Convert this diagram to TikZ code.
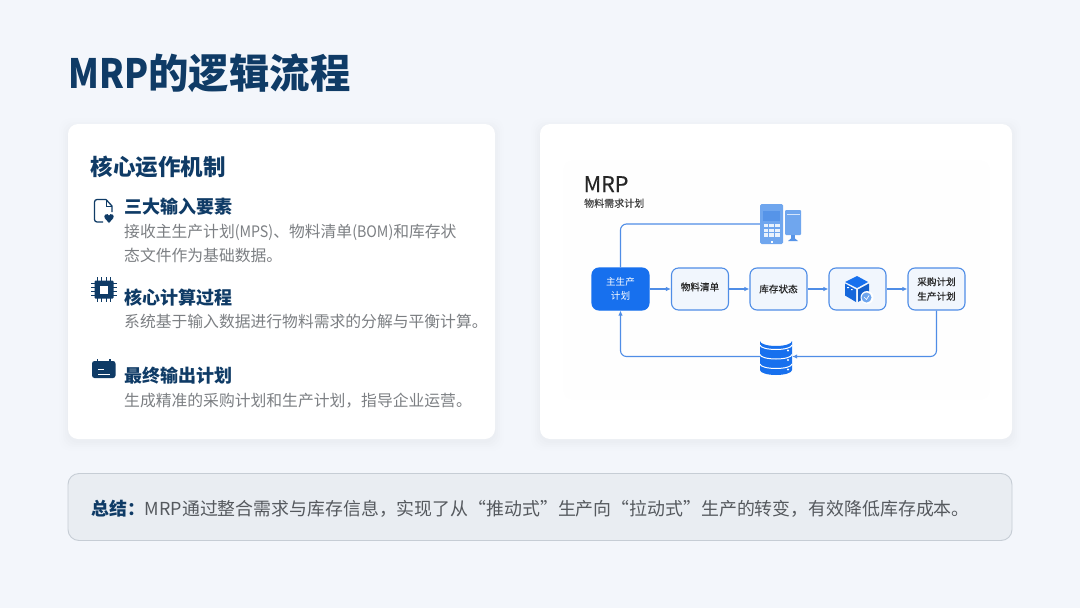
\documentclass[tikz,border=0pt]{standalone}
\usepackage{fontspec}
\usepackage{graphicx}
\setmainfont{Noto Sans CJK SC}
\newfontfamily\medfont[FakeBold=0.25]{Noto Sans CJK SC}
\usetikzlibrary{arrows.meta,calc}
\definecolor{bgc}{HTML}{F3F6FB}
\definecolor{navy}{HTML}{0F3B66}
\definecolor{graytx}{HTML}{7C7F83}
\definecolor{sumtx}{HTML}{55595E}
\definecolor{sumbg}{HTML}{E9EDF2}
\definecolor{sumln}{HTML}{C6CDD5}
\definecolor{flow}{HTML}{4F8DE6}
\definecolor{blue1}{HTML}{1770EE}
\definecolor{boxbg}{HTML}{F1F6FD}
\definecolor{lightb}{HTML}{6FA6EE}
\definecolor{midb}{HTML}{4C8CE6}
\newcommand{\lat}[2][0.9]{\scalebox{#1}[1]{#2}}
\tikzset{
  x=1pt,y=-1pt,
  txt/.style={inner sep=0pt,anchor=base west},
  cardbox/.style={fill=white,rounded corners=10pt,draw=none},
  fbox/.style={draw=flow,line width=1.1pt,fill=boxbg,rounded corners=7pt,minimum width=57pt,minimum height=42pt,inner sep=0pt,align=center,text=black!85,font=\fontsize{9.6}{14.5}\medfont},
  mainbox/.style={fbox,fill=blue1,draw=blue1,text=white,font=\fontsize{9.6}{14.5}\selectfont},
  conn/.style={draw=flow,line width=1.1pt,rounded corners=6pt},
  tip/.style={-{Latex[length=5pt,width=4.5pt]}},
  anchorbox/.style={inner sep=0pt,draw=none,fill=none},
  h1/.style={txt,text=navy,font=\fontsize{22.5}{26}\bfseries},
  h2/.style={txt,text=navy,font=\fontsize{18}{22}\bfseries},
  body/.style={txt,text=graytx,align=left,font=\fontsize{15.8}{24}\selectfont},
}
\newcommand{\softshadow}[4]{%
  \foreach \s/\o in {9/0.004,7/0.005,5/0.006,3/0.007,1/0.008}
    \fill[black,opacity=\o,rounded corners=11pt] (#1-\s,#2-\s+3) rectangle (#3+\s,#4+\s+3);}
\begin{document}
\begin{tikzpicture}
\useasboundingbox (0,0) rectangle (1080,608);
\fill[bgc] (0,0) rectangle (1080,608);
\softshadow{68}{124}{495}{439}
\softshadow{540}{124}{1012}{439}
\fill[cardbox] (68,124) rectangle (495,439);
\fill[cardbox] (540,124) rectangle (1012,439);
\fill[blue1,opacity=0.005,rounded corners=10pt] (563,160) rectangle (990,400);
\draw[sumln,fill=sumbg,line width=0.9pt,rounded corners=11pt] (68,473.5) rectangle (1012,540.5);

\node[txt,text=navy,font=\fontsize{40.4}{48}\bfseries] (title) at (68.5,88) {\lat[0.87]{MRP}的逻辑流程};
\node[h1] (head) at (90.5,175) {核心运作机制};
\node[h2] (t1) at (124.5,213.5) {三大输入要素};
\node[body] (b1) at (124,261) {接收主生产计划\lat{(MPS)}、物料清单\lat{(BOM)}和库存状\\态文件作为基础数据。};
\node[h2] (t2) at (124.5,304.5) {核心计算过程};
\node[body] (b2) at (124,327.7) {系统基于输入数据进行物料需求的分解与平衡计算。};
\node[h2] (t3) at (124,382.5) {最终输出计划};
\node[body] (b3) at (124,406.7) {生成精准的采购计划和生产计划，指导企业运营。};
\node[txt,font=\fontsize{17.9}{20}\selectfont,text=sumtx] (sum) at (91,515.7) {{\bfseries\color{navy}总结：}MRP通过整合需求与库存信息，实现了从“推动式”生产向“拉动式”生产的转变，有效降低库存成本。};

% left icons
\draw[navy,line width=1.3pt,line join=round,rounded corners=2.5pt] (103,222) -- (94.5,222) -- (94.5,199.5) -- (106,199.5);
\draw[navy,line width=1.3pt,line join=round] (106,199.5) -- (112,206) -- (112,212);
\draw[navy,line width=1pt] (106,199.5) -- (106,206) -- (112,206);
\fill[navy] (109,223) -- (104.6,218) .. controls (103,215) and (107.5,212.5) .. (109,215.5) .. controls (110.5,212.5) and (115,215) .. (113.4,218) -- cycle;

\foreach \p in {0,1,2,3}{
  \draw[navy,line width=1.1pt] (91,283.5+\p*4) -- (117,283.5+\p*4);
  \draw[navy,line width=1.1pt] (97.5+\p*4.3,277) -- (97.5+\p*4.3,302);
}
\fill[navy,rounded corners=1pt] (94.5,280.5) rectangle (113.5,298.5);
\fill[white] (100,285.5) rectangle (108,293.5);

\fill[navy,rounded corners=2.5pt] (92,361) rectangle (115.5,378);
\draw[navy,line width=1.2pt] (97.5,359) -- (97.5,362) (110,359) -- (110,362);
\draw[white,line width=1pt] (98,369.5) -- (104,369.5) (98,374) -- (110,374);

% flow
\node[mainbox] (n1) at (620.5,289) {主生产\\计划};
\node[fbox] (n2) at (700,289) {\raisebox{5pt}{物料清单}};
\node[fbox] (n3) at (778.5,289) {库存状态};
\node[fbox] (n4) at (857.5,289) {};
\node[fbox] (n5) at (936.5,289) {采购计划\\生产计划};
\node[anchorbox,minimum width=41pt,minimum height=40pt] (pc) at (781,224) {};
\node[anchorbox,minimum width=32pt,minimum height=39pt] (db) at (776,356.5) {};
\draw[conn,tip] (n1) -- (n2);
\draw[conn,tip] (n2) -- (n3);
\draw[conn,tip] (n3) -- (n4);
\draw[conn,tip] (n4) -- (n5);
\draw[conn] (n1.north) |- (pc.west);
\draw[conn,tip] (n5.south) |- (db.east);
\draw[conn,tip] (db.west) -| (n1.south);

\node[txt,font=\fontsize{21.5}{24}\medfont,text=black!85] (mrp) at (583.5,192) {MRP};
\node[txt,font=\fontsize{10}{12}\medfont,text=black!75] (mrpsub) at (584,207) {物料需求计划};

% pc icon
\fill[lightb,rounded corners=1.5pt] (760,204) rectangle (783,244);
\fill[midb!70!lightb] (763,210.5) rectangle (780,221);
\foreach \r in {0,1,2}\foreach \c in {0,1,2}
  \fill[white!85!lightb] (763.5+\c*5.8,224+\r*4.6) rectangle +(4.6,3.4);
\fill[white] (770.5,241) rectangle (772.5,242.5);
\fill[lightb,rounded corners=1pt] (785,210) rectangle (801,235);
\fill[white!70!lightb] (786.5,213.5) rectangle (799.5,214.5);
\fill[midb!70!lightb] (791,235) rectangle (795,239);
\fill[midb!70!lightb] (788,241) -- (791,238.5) -- (795,238.5) -- (798,241) -- cycle;

% cube icon
\fill[blue1] (857,276) -- (845,282) -- (857,288) -- (868,282) -- cycle;
\fill[blue1!92!black] (845,283.5) -- (856,289.5) -- (856,302) -- (845,295.5) -- cycle;
\fill[blue1!85!black] (869,283.5) -- (858,289.5) -- (858,302) -- (869,295.5) -- cycle;
\fill[white] (847,287) rectangle (849,288) (851,289) rectangle (852.5,290);
\fill[white] (867,297.5) circle[radius=6.5];
\fill[lightb] (866.5,297.5) circle[radius=5];
\draw[white,line width=0.7pt] (864,297) -- (866.5,299.5) -- (869,295.5);

% database icon
\fill[blue1] (760,341) -- (760,370) arc[start angle=180,end angle=0,x radius=16,y radius=5] -- (792,341) arc[start angle=0,end angle=180,x radius=16,y radius=5] -- cycle;
\foreach \yy in {345,354.5,364}
  \draw[white,line width=1pt] (760,\yy) arc[start angle=180,end angle=0,x radius=16,y radius=4.5];
\fill[white] (788,350.5) circle[radius=1.2] (788,360) circle[radius=1.2] (788,369.5) circle[radius=1.2];
\end{tikzpicture}
\end{document}
